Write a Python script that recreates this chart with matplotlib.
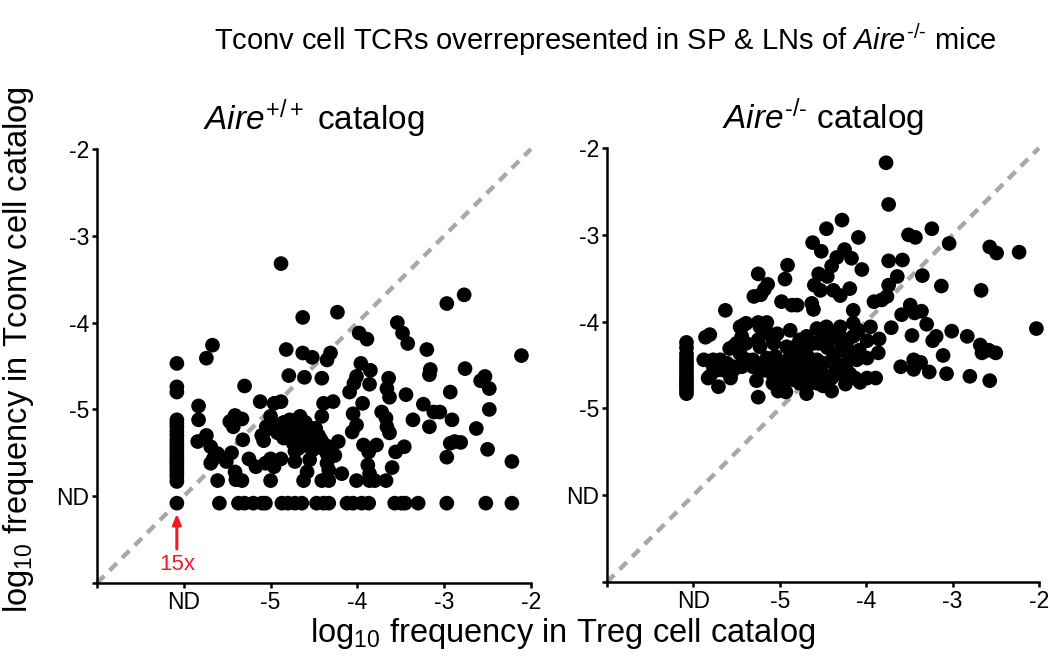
import numpy as np
import matplotlib
matplotlib.use("Agg")
import matplotlib.pyplot as plt

plt.rcParams['font.family'] = ['Liberation Sans', 'DejaVu Sans']
plt.rcParams['mathtext.fontset'] = 'custom'
plt.rcParams['mathtext.rm'] = 'Liberation Sans'
plt.rcParams['mathtext.it'] = 'Liberation Sans:italic'

ND = -6.08  # position used for "not detected"
HY = '\u2010'  # plain hyphen for the -/- superscript

# Aire+/+ catalog: (Treg, Tconv) log10 frequencies
wt_x = [-4.88, -2.77, -2.97, -4.23, -4.63, -3.54, -3.48, -3.42, -3.98, -3.89,
        -5.67, -5.74, -2.11, -3.20, -4.82, -4.63, -4.52, -4.35, -4.31, -3.96,
        -3.85, -3.16, -3.17, -2.76, -4.79, -4.61, -4.41, -4.01, -4.04, -4.09,
        -3.86, -3.64, -3.66, -3.63, -3.44, -2.53, -2.58, -2.48, -2.93, -5.30,
        -5.83, -5.83, -5.84, -5.74, -5.69, -5.66, -5.69, -5.61, -5.61, -5.51,
        -5.45, -5.47, -5.41, -5.33, -5.43, -5.32, -5.41, -5.40, -5.33, -5.25,
        -5.17, -5.12, -5.08, -5.06, -5.00, -5.00, -4.96, -4.88, -5.00, -4.98,
        -4.92, -4.88, -4.96, -4.78, -4.76, -4.74, -4.72, -4.66, -4.62, -4.57,
        -4.66, -4.51, -4.47, -4.55, -4.58, -4.62, -4.41, -4.37, -4.35, -4.35,
        -4.33, -4.41, -4.33, -4.39, -4.28, -4.26, -4.22, -4.18, -4.05, -4.01,
        -4.06, -3.94, -3.93, -3.87, -3.78, -3.88, -3.86, -3.86, -4.01, -3.80,
        -3.67, -3.72, -3.67, -3.66, -3.63, -3.60, -3.56, -3.46, -3.36, -3.24,
        -3.17, -3.12, -3.05, -2.91, -2.93, -2.88, -2.81, -2.97, -2.63, -2.48,
        -2.50, -2.22, -4.70, -4.55, -4.45, -4.85, -4.68, -4.52, -5.02, -4.60,
        -4.48, -4.42, -4.72, -5.10, -4.85, -4.70, -4.60, -4.50, -4.45, -4.55,
        -4.65, -4.80, -4.40, -4.30, -5.05, -5.10]
wt_y = [-3.32, -3.68, -3.78, -3.88, -3.94, -4.00, -4.12, -4.24, -4.12, -4.19,
        -4.26, -4.41, -4.38, -4.31, -4.31, -4.35, -4.40, -4.43, -4.35, -4.47,
        -4.55, -4.54, -4.60, -4.53, -4.61, -4.63, -4.64, -4.62, -4.70, -4.80,
        -4.71, -4.64, -4.76, -4.86, -4.83, -4.62, -4.67, -4.76, -4.80, -4.73,
        -4.96, -5.12, -5.37, -5.30, -5.43, -5.57, -5.62, -5.51, -5.82, -5.60,
        -5.50, -5.14, -5.07, -5.11, -5.20, -5.35, -5.72, -5.81, -5.82, -5.57,
        -5.66, -4.91, -5.36, -5.62, -5.57, -5.82, -4.93, -4.91, -5.08, -5.20,
        -5.27, -5.57, -5.66, -5.12, -5.24, -5.39, -5.60, -5.08, -5.24, -5.32,
        -5.43, -5.28, -5.39, -5.58, -5.72, -5.82, -5.08, -5.41, -5.51, -5.62,
        -5.70, -5.82, -5.82, -4.93, -4.91, -5.53, -5.37, -5.74, -5.05, -5.18,
        -5.26, -4.93, -5.41, -5.49, -5.41, -5.64, -5.74, -5.82, -5.82, -5.82,
        -5.82, -5.03, -5.10, -5.20, -5.27, -5.67, -5.49, -5.43, -5.12, -4.94,
        -5.20, -5.03, -5.03, -5.12, -5.39, -5.37, -5.38, -5.55, -5.22, -5.00,
        -5.46, -5.60, -5.30, -5.35, -5.30, -5.33, -5.45, -5.47, -5.22, -5.18,
        -5.22, -5.35, -5.48, -5.30, -5.15, -5.20, -5.15, -5.22, -5.30, -5.38,
        -5.33, -5.30, -5.45, -5.50, -5.20, -5.30]

# TCRs found only in Tconv (Treg = ND), Aire+/+
wt_ndx_y = [-4.47, -4.74, -4.80, -5.12, -5.16, -5.20, -5.25, -5.30, -5.35, -5.39,
            -5.43, -5.47, -5.51, -5.55, -5.59, -5.62, -5.66, -5.70, -5.74, -5.78,
            -5.83, -6.08]
# TCRs found only in Treg (Tconv = ND), Aire+/+
wt_ndy_x = [-5.59, -5.37, -5.30, -5.20, -5.10, -5.06, -4.87, -4.80, -4.72, -4.64,
            -4.47, -4.39, -4.33, -4.12, -4.05, -3.95, -3.87, -3.57, -3.49, -3.45,
            -3.30, -2.97, -2.52, -2.22]

# Aire-/- catalog
ko_x = [-3.77, -3.74, -4.28, -4.46, -4.09, -3.24, -3.51, -3.43, -3.04, -2.57,
        -2.49, -2.23, -4.62, -4.52, -4.25, -4.34, -4.17, -3.74, -3.58, -4.91,
        -4.40, -4.05, -5.25, -4.94, -4.55, -4.45, -3.64, -3.35, -3.13, -3.74,
        -3.76, -3.82, -3.91, -2.67, -5.14, -5.18, -5.22, -5.30, -4.60, -4.53,
        -4.38, -4.30, -4.19, -4.98, -4.86, -4.80, -4.63, -4.61, -5.63, -4.15,
        -3.59, -3.49, -3.44, -3.36, -3.30, -3.47, -3.71, -3.95, -3.85, -3.86,
        -3.99, -3.99, -3.01, -3.19, -3.23, -2.83, -2.68, -2.66, -2.58, -2.50,
        -2.03, -3.11, -3.07, -3.27, -3.45, -3.37, -3.45, -3.60, -2.80, -2.57,
        -3.89, -3.99, -4.07, -4.13, -4.19, -4.24, -4.40, -4.40, -4.50, -4.69,
        -4.77, -4.93, -5.02, -5.25, -5.27, -5.23, -5.15, -5.07, -5.00, -4.84,
        -4.73, -4.65, -4.57, -4.50, -4.38, -4.30, -4.23, -4.15, -4.09, -4.15,
        -4.30, -4.46, -4.57, -4.61, -4.69, -4.77, -4.82, -4.88, -5.03, -5.07,
        -5.15, -5.25, -5.25, -5.42, -5.44, -5.54, -5.46, -5.38, -5.31, -5.61,
        -5.77, -5.88, -5.86, -5.81, -5.73, -5.71, -5.57, -5.54, -5.44, -5.83,
        -4.92, -4.84, -5.00, -5.11, -5.19, -4.67, -4.53, -4.61, -4.32, -4.23,
        -4.15, -4.08, -4.38, -4.27, -4.95, -4.70, -4.45, -4.20, -4.35, -4.60,
        -4.90, -5.05, -4.75, -4.55,
        -5.46, -5.39, -5.23, -5.15, -5.08, -5.23, -5.39, -5.50, -5.58, -5.69,
        -5.77, -5.81, -5.65, -5.54, -5.42, -5.31, -5.15, -5.00, -4.88, -4.77,
        -4.65, -4.53, -4.42, -4.30, -4.23, -4.38, -4.50, -4.61, -4.73, -4.84,
        -4.96, -5.08, -4.69, -4.57, -4.46, -4.34, -4.23, -4.11]
ko_y = [-2.17, -2.65, -2.83, -2.93, -3.03, -2.93, -3.00, -3.03, -3.10, -3.14,
        -3.21, -3.20, -3.09, -3.19, -3.17, -3.26, -3.27, -3.30, -3.29, -3.35,
        -3.36, -3.40, -3.45, -3.51, -3.45, -3.48, -3.48, -3.47, -3.59, -3.58,
        -3.71, -3.75, -3.77, -3.64, -3.57, -3.63, -3.69, -3.71, -3.58, -3.64,
        -3.64, -3.70, -3.62, -3.77, -3.81, -3.81, -3.79, -3.86, -3.87, -3.87,
        -3.92, -3.81, -3.90, -3.88, -4.03, -4.16, -4.07, -4.06, -4.20, -4.36,
        -4.22, -4.42, -4.11, -4.17, -4.22, -4.17, -4.27, -4.36, -4.33, -4.36,
        -4.08, -4.39, -4.60, -4.58, -4.44, -4.47, -4.55, -4.52, -4.63, -4.68,
        -4.65, -4.65, -4.70, -4.65, -4.60, -4.72, -4.65, -4.80, -4.74, -4.83,
        -4.71, -4.81, -4.80, -4.87, -4.68, -4.54, -4.42, -4.64, -4.62, -4.56,
        -4.50, -4.48, -4.44, -4.48, -4.41, -4.33, -4.25, -4.17, -4.10, -4.02,
        -4.06, -4.06, -4.08, -4.25, -4.17, -4.21, -4.29, -4.10, -4.14, -4.25,
        -4.01, -4.01, -4.21, -4.04, -4.17, -4.29, -4.37, -4.44, -4.44, -4.48,
        -4.44, -4.44, -4.18, -4.15, -4.56, -4.75, -4.65, -4.56, -4.52, -4.65,
        -4.29, -4.40, -4.48, -4.56, -4.56, -4.41, -4.60, -4.69, -4.50, -4.48,
        -4.40, -4.33, -4.19, -4.21, -4.60, -4.35, -4.30, -4.38, -4.55, -4.52,
        -4.45, -4.40, -4.62, -4.25,
        -4.06, -4.02, -4.06, -4.12, -4.21, -4.29, -4.25, -4.25, -4.31, -4.44,
        -4.52, -4.63, -4.56, -4.52, -4.44, -4.52, -4.56, -4.48, -4.40, -4.33,
        -4.25, -4.21, -4.13, -4.17, -4.29, -4.40, -4.48, -4.56, -4.63, -4.67,
        -4.75, -4.71, -4.75, -4.71, -4.63, -4.60, -4.56, -4.44]

# TCRs found only in Tconv (Treg = ND), Aire-/-
ko_ndx_y = [-4.24, -4.30, -4.37, -4.42, -4.46, -4.50, -4.54, -4.58, -4.62, -4.66,
            -4.69, -4.72, -4.75, -4.79, -4.83]

ticks = [-7, -6, -5, -4, -3, -2]
tick_labels = ['', 'ND', '-5', '-4', '-3', '-2']

fig = plt.figure(figsize=(10.5, 6.67), dpi=100)
ax1 = fig.add_axes([0.0924, 0.1259, 0.4133, 0.6507])
ax2 = fig.add_axes([0.5781, 0.1274, 0.4114, 0.6507])

panels = [
    (ax1, wt_x + [ND] * len(wt_ndx_y) + wt_ndy_x,
     wt_y + wt_ndx_y + [ND] * len(wt_ndy_x), r'$\it{Aire}^{+/+}$ catalog'),
    (ax2, ko_x + [ND] * len(ko_ndx_y), ko_y + ko_ndx_y,
     r'$\it{Aire}^{%s/%s}$ catalog' % (HY, HY)),
]

for ax, xs, ys, ttl in panels:
    ax.plot([-7, -2], [-7, -2], color='#a8a8a8', lw=3.2,
            linestyle=(0, (2.3, 1.7)), zorder=1, clip_on=False)
    ax.scatter(xs, ys, s=112, color='black', edgecolors='none', zorder=2, clip_on=False)
    ax.set_xlim(-7, -2)
    ax.set_ylim(-7, -2)
    ax.set_xticks(ticks)
    ax.set_xticklabels(tick_labels)
    ax.set_yticks(ticks)
    ax.set_yticklabels(tick_labels)
    for side in ['top', 'right']:
        ax.spines[side].set_visible(False)
    for side in ['left', 'bottom']:
        ax.spines[side].set_linewidth(1.8)
    ax.tick_params(direction='out', length=3.5, width=1.8, labelsize=16.5, pad=2)
    ax.set_title(ttl, fontsize=24, pad=14)

ax1.annotate('', xy=(ND, -6.17), xytext=(ND, -6.64),
             arrowprops=dict(arrowstyle='-|>,head_width=0.25,head_length=0.6',
                             color='#ee1c25', lw=2.2))
ax1.text(ND, -6.79, '15x', color='#ee1c25', fontsize=16, ha='center', va='center')

fig.text(0.018, 0.476, r'log$_{10}$ frequency in Tconv cell catalog', fontsize=23.5,
         rotation=90, ha='center', va='center')
fig.text(0.536, 0.05, r'log$_{10}$ frequency in Treg cell catalog', fontsize=23.5,
         ha='center', va='center')
fig.text(0.577, 0.94,
         r'Tconv cell TCRs overrepresented in SP & LNs of $\it{Aire}^{%s/%s}$ mice' % (HY, HY),
         fontsize=21, ha='center', va='center')

fig.savefig('out.png', dpi=100)
